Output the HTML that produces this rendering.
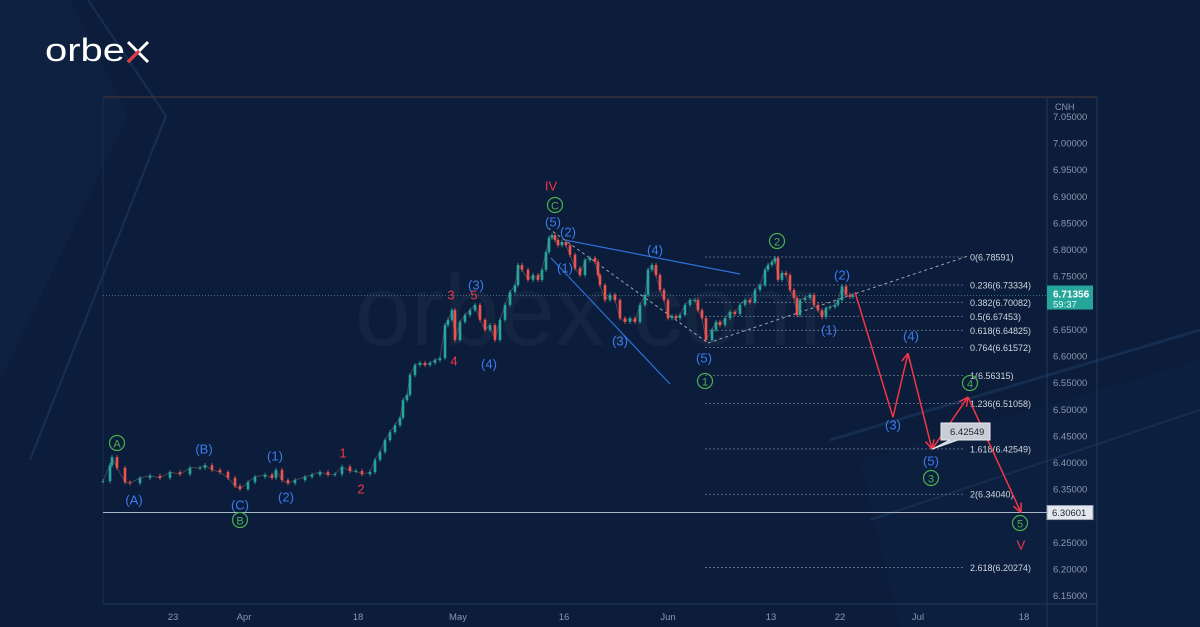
<!DOCTYPE html>
<html><head><meta charset="utf-8">
<style>
html,body{margin:0;padding:0;background:#0b1d3a;}
#wrap{position:relative;width:1200px;height:627px;overflow:hidden;background:#0b1d3a;font-family:"Liberation Sans",sans-serif;}
svg{position:absolute;left:0;top:0;}
</style></head>
<body>
<div id="wrap">
<svg id="chart" width="1200" height="627" viewBox="0 0 1200 627">
  <g>
    <polygon points="0,0 70,0 128,115 0,380" fill="#12284a" opacity="0.45"/>
    <polyline points="88,0 166,116 30,460" fill="none" stroke="#172f52" stroke-width="2"/>
    <polygon points="860,460 1200,360 1200,627 900,627" fill="#0e2446" opacity="0.4"/>
    <line x1="830" y1="440" x2="1200" y2="330" stroke="#142d50" stroke-width="3"/>
    <line x1="870" y1="520" x2="1200" y2="410" stroke="#142d50" stroke-width="2"/>
  </g>
  <g>
    <text x="45" y="61" font-size="32" fill="#ffffff" textLength="80" lengthAdjust="spacingAndGlyphs">orbe</text>
    <line x1="128" y1="42" x2="148" y2="62" stroke="#ffffff" stroke-width="3"/>
    <line x1="148" y1="42" x2="128" y2="62" stroke="#ffffff" stroke-width="3"/>
    <line x1="139" y1="51" x2="128" y2="62" stroke="#e23a45" stroke-width="3.2"/>
  </g>
  <text x="355" y="345" font-size="100" fill="#ffffff" opacity="0.035">orbex.com</text>
  <line x1="103" y1="97" x2="1097" y2="97" stroke="#4a3a34" stroke-width="1"/>
  <line x1="103" y1="97" x2="103" y2="604" stroke="#16304f" stroke-width="1"/>
  <line x1="1047" y1="97" x2="1047" y2="627" stroke="#22395b" stroke-width="1"/>
  <line x1="103" y1="604" x2="1097" y2="604" stroke="#22395b" stroke-width="1"/>
  <line x1="1097" y1="97" x2="1097" y2="627" stroke="#22395b" stroke-width="1"/>
  <text x="1055" y="110" font-size="9" fill="#8a98ad">CNH</text>
  <g id="yaxis"></g>
  <g id="xaxis"></g>
  <g id="fib"></g>
  <g id="lines"></g>
  <g id="candles"></g>
  <g id="proj"></g>
  <g id="labels"></g>
</svg>
</div>
<script>
// ---- data ----
const times = [0,7,9,14,22,27,37,47,57,67,77,87,97,102,109,117,125,132,137,145,152,162,169,173,179,185,192,202,209,217,225,232,239,247,253,259,267,272,277,282,287,292,297,300,304,307,312,317,322,327,332,337,342,345,349,352,357,362,367,372,377,382,387,392,397,402,407,412,415,419,425,430,435,439,443,446,449,452,455,459,463,467,472,477,482,487,492,495,497,502,507,512,517,522,527,532,537,542,545,549,553,557,561,565,569,573,577,582,587,592,595,599,603,609,613,617,622,627,632,637,642,647,652,657,662,665,669,672,675,679,683,687,691,694,697,702,707,711,715,719,723,727,732,735,739,743,747,750];
const closes = [6.365,6.395,6.410,6.390,6.363,6.361,6.371,6.375,6.371,6.382,6.378,6.390,6.390,6.395,6.386,6.382,6.371,6.356,6.350,6.363,6.373,6.377,6.371,6.386,6.367,6.361,6.367,6.373,6.377,6.382,6.377,6.378,6.392,6.384,6.384,6.378,6.382,6.405,6.420,6.442,6.457,6.470,6.484,6.517,6.527,6.564,6.583,6.587,6.583,6.587,6.592,6.596,6.658,6.668,6.686,6.630,6.664,6.677,6.686,6.696,6.668,6.649,6.658,6.630,6.668,6.696,6.720,6.733,6.771,6.762,6.743,6.752,6.743,6.762,6.795,6.822,6.827,6.818,6.808,6.814,6.808,6.790,6.765,6.752,6.780,6.784,6.777,6.752,6.733,6.705,6.715,6.705,6.671,6.664,6.671,6.664,6.696,6.715,6.762,6.771,6.752,6.724,6.705,6.671,6.675,6.671,6.677,6.696,6.705,6.705,6.686,6.671,6.630,6.649,6.664,6.658,6.671,6.683,6.679,6.696,6.705,6.701,6.724,6.733,6.762,6.771,6.777,6.784,6.743,6.756,6.752,6.724,6.709,6.677,6.705,6.709,6.715,6.696,6.686,6.673,6.690,6.692,6.696,6.705,6.731,6.715,6.711,6.714];
const priceTicks = [7.05,7.00,6.95,6.90,6.85,6.80,6.75,6.70,6.65,6.60,6.55,6.50,6.45,6.40,6.35,6.30,6.25,6.20,6.15];
const timeLabels = ["23","Apr","18","May","16","Jun","13","22","Jul","18"];
const timeLabelT = [70,141,255,355,461,565,668,737,815,921];
const fibRatios = ["0","0.236","0.382","0.5","0.618","0.764","1","1.236","1.618","2","2.618"];
const fibPrices = [6.78591,6.73334,6.70082,6.67453,6.64825,6.61572,6.56315,6.51058,6.42549,6.34040,6.20274];
const lastPrice = 6.71356;
const supportPrice = 6.30601;
const projT = [752,790,805,829,865,918];
const projP = [6.720,6.485,6.605,6.425,6.523,6.306];

// ---- scales ----
const yS = p => 143 + (7.0 - p) * 532.5;
const xS = t => 103 + t;
const NS = "http://www.w3.org/2000/svg";
function mk(tag, parent, attrs){ const e=document.createElementNS(NS,tag); for(const k in attrs) e.setAttribute(k,attrs[k]); parent.appendChild(e); return e; }

const ya = document.getElementById('yaxis');
priceTicks.forEach(p=>{
  const y=yS(p); if(y<112) return;
  const t=mk('text',ya,{x:1053,y:y+3.5,'font-size':9.5,fill:'#8a98ad'});
  
  
  t.textContent=p.toFixed(5);
});
const xa=document.getElementById('xaxis');
timeLabels.forEach((l,i)=>{
  const t=mk('text',xa,{x:xS(timeLabelT[i]),y:620,'font-size':9.5,fill:'#8a98ad','text-anchor':'middle'});
  
  
  t.textContent=l;
});

const ln=document.getElementById('lines');
const sup=mk('line',ln,{x1:103,x2:1047,y1:yS(supportPrice),y2:yS(supportPrice),stroke:'#aab4c4','stroke-width':1});


const cur=mk('line',ln,{x1:103,x2:1047,y1:yS(lastPrice),y2:yS(lastPrice),stroke:'#3e6d80','stroke-width':1,'stroke-dasharray':'1,2'});


const sb=mk('rect',ln,{x:1047,y:yS(supportPrice)-7,width:46,height:14,fill:'#e4e8ee',stroke:'#9aa6b6'});


const st=mk('text',ln,{x:1052,y:yS(supportPrice)+3.5,'font-size':9.5,fill:'#1a2233'});


st.textContent=supportPrice.toFixed(5);
const cb=mk('rect',ln,{x:1047,y:yS(lastPrice)-10,width:46,height:24,fill:'#26a69a'});


const ct=mk('text',ln,{x:1053,y:yS(lastPrice)+2,'font-size':10,fill:'#fff','font-weight':'bold'});


ct.textContent=lastPrice.toFixed(5);
const cd=mk('text',ln,{x:1053,y:yS(lastPrice)+12,'font-size':9.5,fill:'#e8fff9'});


cd.textContent='59:37';

[[565,240,740,274],[551,258,670,384]].forEach(a=>{
  const l=mk('line',ln,{x1:a[0],y1:a[1],x2:a[2],y2:a[3],stroke:'#2f6fd8','stroke-width':1.2});
  
  
});
[[548,228,708,343],[708,343,968,256]].forEach(a=>{
  const l=mk('line',ln,{x1:a[0],y1:a[1],x2:a[2],y2:a[3],stroke:'#9aa6b6','stroke-width':1,'stroke-dasharray':'3,3'});
  
  
});

const fb=document.getElementById('fib');
fibPrices.forEach((p,i)=>{
  const y=yS(p);
  const l=mk('line',fb,{x1:705,x2:965,y1:y,y2:y,stroke:'#6c7a8e','stroke-width':0.8,'stroke-dasharray':'2,2'});
  
  
  const t=mk('text',fb,{x:970,y:y+3.5,'font-size':9,fill:'#d0d6df'});
  
  
  t.textContent=fibRatios[i]+'('+p.toFixed(5)+')';
});

const cg=document.getElementById('candles');
const pl=mk('polyline',cg,{points:closes.map((c,i)=>xS(times[i])+','+yS(c)).join(' '),fill:'none',stroke:'#8a6a6a','stroke-width':0.8,opacity:0.6});


closes.forEach((c,i)=>{
  const o=i? closes[i-1]:c;
  const up=c>=o, col=up?'#26a69a':'#ef5350';
  const x=xS(times[i]);
  const hi=Math.max(o,c)+0.004, lo=Math.min(o,c)-0.004;
  const w=mk('line',cg,{x1:x,x2:x,y1:yS(hi),y2:yS(lo),stroke:col,'stroke-width':0.8});
  
  
  const top=yS(Math.max(o,c)), h=Math.max(1,yS(Math.min(o,c))-top);
  const b=mk('rect',cg,{x:x-1.3,y:top,width:2.6,height:h,fill:col});
  
  
});

const pg=document.getElementById('proj');
for(let i=0;i<projT.length-1;i++){
  const x1=xS(projT[i]),y1=yS(projP[i]),x2=xS(projT[i+1]),y2=yS(projP[i+1]);
  const l=mk('line',pg,{x1,y1,x2,y2,stroke:'#f23645','stroke-width':1.5});
  
  
  if(i>0){
    const a=Math.atan2(y2-y1,x2-x1);
    [0.45,-0.45].forEach(d=>{
      const h=mk('line',pg,{x1:x2,y1:y2,x2:x2-10*Math.cos(a+d),y2:y2-10*Math.sin(a+d),stroke:'#f23645','stroke-width':1.5});
      
      
    });
  }
}
const cx=xS(projT[3]), cyy=yS(projP[3]);
const cbx=mk('path',pg,{d:`M941,423 h49 v17 h-32 L${cx},${cyy} L950,440 h-9 z`,fill:'#c9ced6',stroke:'#e8ebf0'});


const ctt=mk('text',pg,{x:950,y:435,'font-size':9.5,fill:'#1a2233'});


ctt.textContent='6.42549';

const B='#3d7bf0', G='#4caf50', R='#f23645';
const waveText=['A','(A)','(B)','(C)','B','(1)','(2)','1','2','3','5','(3)','4','(4)','IV','C','(5)','(2)','(1)','(3)','(4)','(5)','1','2','(2)','(1)','(4)','(3)','4','(5)','3','5','V'];
const waveX=[117,134,204,240,240,275,286,343,361,451,474,476,454,489,551,555,553,568,565,620,655,704,705,777,842,829,911,893,970,931,931,1020,1021];
const waveY=[443,500,449,505,520,456,497,453,489,295,295,285,361,364,186,205,222,232,268,341,250,358,381,241,275,330,336,425,383,461,478,523,545];
const waveCol=[G,B,B,B,G,B,B,R,R,R,R,B,R,B,R,G,B,B,B,B,B,B,G,G,B,B,B,B,G,B,G,G,R];
const lg=document.getElementById('labels');
waveText.forEach((t,i)=>{
  const circ=waveCol[i]===G;
  if(circ){
    const c=mk('circle',lg,{cx:waveX[i],cy:waveY[i],r:7.5,fill:'none',stroke:G,'stroke-width':1.2});
    
    
  }
  const e=mk('text',lg,{x:waveX[i],y:waveY[i]+4.5,'font-size':circ?11:13,fill:waveCol[i],'text-anchor':'middle'});
  
  
  e.textContent=t;
});
</script>
</body></html>
